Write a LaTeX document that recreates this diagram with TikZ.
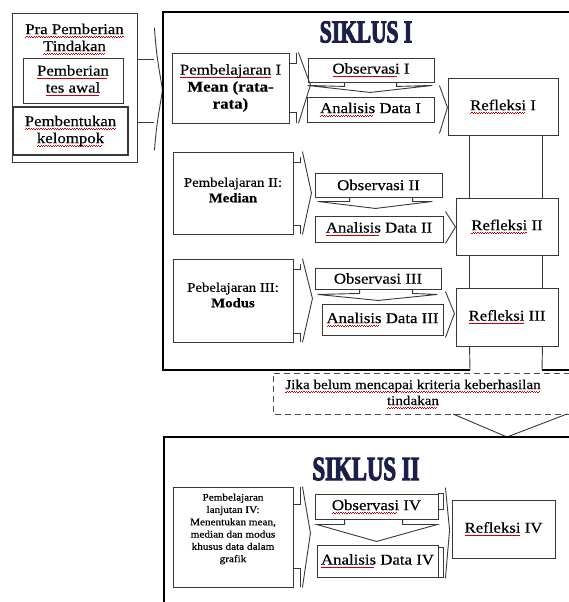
\documentclass[tikz,border=0pt]{standalone}
\usepackage{fontspec}
\setmainfont[FakeStretch=1.12,FakeBold=0.4]{Liberation Serif}
\newfontfamily\titlefont[FakeStretch=0.67,FakeBold=3]{Liberation Serif}
\usetikzlibrary{calc}

% red spell-check wave under a word group
\newsavebox\sqbox
\newcommand\sq[1]{\sbox\sqbox{#1}\rlap{\color{red!80!black}\leaders\hbox{\rule[-3.2pt]{1.2pt}{0.55pt}\rule[-2.5pt]{1.2pt}{0.55pt}}\hskip\wd\sqbox}\usebox\sqbox}

\definecolor{navy}{HTML}{1B1F4A}

\begin{document}
\begin{tikzpicture}[x=1pt,y=-1pt,
  ln/.style={draw=black!78, line width=0.9pt},
  box/.style={ln, fill=white, inner sep=0pt, align=center},
  frame/.style={draw=black, line width=2.8pt},
  txt/.style={font=\fontsize{15}{17}\selectfont, align=center},
  sm/.style={font=\fontsize{13.2}{15.5}\selectfont, align=center},
  xs/.style={font=\fontsize{10}{12.3}\selectfont, align=center},
  ttl/.style={font=\titlefont\bfseries\fontsize{32}{32}\selectfont, text=navy},
  dashbox/.style={draw=black!70, line width=1pt, dash pattern=on 6pt off 4pt},
]
\useasboundingbox (0,0) rectangle (569,602);
\begin{scope}
\clip (0,0) rectangle (569,602);

% ---------- preliminary stage ----------
\node[box, minimum width=125, minimum height=149] (pra) at (74.5,87.5) {};
\node[txt] (pratxt) at (74.5,39) {\sq{Pra Pemberian}\\\sq{Tindakan}};
\node[box, txt, minimum width=100, minimum height=45] (tes) at (73,80.5) {\sq{Pemberian}\\\sq{tes awal}};
\node[box, txt, line width=1.8pt, minimum width=115, minimum height=48] (kel) at (70.5,131) {\sq{Pembentukan}\\\sq{kelompok}};
\draw[ln] ($(pra.north east)+(0,47)$) -- ++(17,0);
\draw[ln] ($(pra.north east)+(0,110)$) -- ++(17,0);
\draw[ln] ($(pra.north east)+(17,15)$) .. controls ($(pra.north east)+(19,47)$) and ($(pra.east)+(23,-12)$) .. ($(pra.east)+(25,2.5)$)
          .. controls ($(pra.east)+(23,17)$) and ($(pra.south east)+(19,-40)$) .. ($(pra.south east)+(17,-12)$);

% ---------- cycle I frame ----------
\coordinate (s1a) at (470,370);
\coordinate (s1b) at (163,370);
\coordinate (s1c) at (163,12);
\coordinate (s1d) at (600,12);
\coordinate (s1e) at (542,370);
\coordinate (s1f) at (600,370);
\draw[frame] (s1a) -- (s1b) -- (s1c) -- (s1d);
\draw[frame] (s1e) -- (s1f);
\node[ttl] (t1) at (366,32) {SIKLUS I};

% ---------- row 1 ----------
\node[box, txt, minimum width=117, minimum height=70] (p1) at (230.5,88) {\sq{Pembelajaran} I\\\textbf{Mean (rata-}\\\textbf{rata)}};
\node[box, txt, minimum width=126, minimum height=24] (o1) at (371,70) {\sq{Observasi} I};
\node[box, txt, minimum width=127, minimum height=25] (a1) at (370.5,109.5) {\sq{Analisis} Data I};
\node[box, txt, minimum width=110, minimum height=57] (r1) at (503,106.5) {\sq{Refleksi} I};
\draw[ln] (p1.north east) -- ++(0,11) -- ++(7,0) -- ++(0,-11);
\draw[ln] (p1.south east) -- ++(0,-11) -- ++(7,0) -- ++(0,11);
\draw[ln] ($(p1.north east)+(9,0)$) -- ($(p1.east)+(21,-3)$) -- ($(p1.south east)+(9,0)$);
\draw[ln] ($(o1.south west)+(37,0)$) -- ++(0,4) -- ($(o1.south west)+(0,3)$) -- ($(o1.south)+(-1,10)$)
          -- ($(o1.south east)+(-2,3)$) -- ($(o1.south west)+(89,4)$) -- ($(o1.south west)+(89,0)$);
\draw[ln] ($(a1.north east)+(5,-11)$) -- ($(a1.east)+(13,-2)$) -- ($(a1.south east)+(5,11)$);

% ---------- row 2 ----------
\node[box, minimum width=120, minimum height=82] (p2) at (233,193) {};
\node[sm] (p2t) at (233,190) {Pembelajaran II:\\\textbf{Median}};
\node[box, txt, minimum width=127, minimum height=24] (o2) at (378.5,185) {Observasi II};
\node[box, txt, minimum width=128, minimum height=26] (a2) at (379,229) {\sq{Analisis} Data II};
\node[box, txt, minimum width=102, minimum height=57] (r2) at (507,226.5) {\sq{Refleksi} II};
\draw[ln] (p2.north east) -- ++(0,11) -- ++(7,0) -- ++(0,-6);
\draw[ln] (p2.south east) -- ++(0,-9) -- ++(7,0) -- ++(0,9);
\draw[ln] ($(p2.north east)+(9,0)$) -- ($(p2.east)+(18,0)$) -- ($(p2.south east)+(9,0)$);
\draw[ln] ($(o2.south west)+(35,0)$) -- ++(0,4) -- ($(o2.south west)+(3,4)$) -- ($(o2.south)+(-3,11)$)
          -- ($(o2.south east)+(-10,4)$) -- ($(o2.south west)+(98,4)$) -- ($(o2.south west)+(98,0)$);
\draw[ln] ($(a2.north east)+(2,-4)$) -- ($(a2.east)+(12,-2)$) -- ($(a2.south east)+(2,1)$);

% ---------- row 3 ----------
\node[box, minimum width=120, minimum height=83] (p3) at (233,300.5) {};
\node[sm] (p3t) at (233,295) {Pebelajaran III:\\\textbf{Modus}};
\node[box, txt, minimum width=126, minimum height=21] (o3) at (378,278.5) {Observasi III};
\node[box, txt, minimum width=121, minimum height=31] (a3) at (382.5,319.5) {\sq{Analisis} Data III};
\node[box, txt, minimum width=102, minimum height=58] (r3) at (507,317) {\sq{Refleksi} III};
\draw[ln] (p3.north east) -- ++(0,11) -- ++(7,0) -- ++(0,-6);
\draw[ln] (p3.south east) -- ++(0,-9) -- ++(7,0) -- ++(0,9);
\draw[ln] ($(p3.north east)+(9,0)$) -- ($(p3.east)+(19,-2)$) -- ($(p3.south east)+(9,0)$);
\draw[ln] ($(o3.south west)+(45,0)$) -- ++(0,4) -- ($(o3.south west)+(3,5)$) -- ($(o3.south)+(0,11)$)
          -- ($(o3.south east)+(-4,5)$) -- ($(o3.south west)+(98,4)$) -- ($(o3.south west)+(98,0)$);
\draw[ln] ($(a3.north east)+(2,-12)$) -- ($(a3.east)+(11,-6)$) -- ($(a3.south east)+(2,2)$);

% ---------- reflection column ----------
\draw[ln] ($(r1.south west)+(22,0)$) -- ($(r2.north west)+(14,0)$);
\draw[ln] ($(r1.south east)+(-16,0)$) -- ($(r2.north east)+(-16,0)$);
\draw[ln] ($(r2.south west)+(14,0)$) -- ($(r3.north west)+(14,0)$);
\draw[ln] ($(r2.south east)+(-16,0)$) -- ($(r3.north east)+(-16,0)$);
\draw[ln] ($(r3.south west)+(14,0)$) -- (s1a);
\draw[ln] ($(r3.south east)+(-16,0)$) -- (s1e);

% ---------- condition ----------
\coordinate (c1) at (600,373);
\coordinate (c2) at (273,373);
\coordinate (c3) at (273,414);
\coordinate (c4) at (600,414);
\draw[dashbox] (c1) -- (c2) -- (c3) -- (c4);
\node[font=\fontsize{13.5}{16}\selectfont, align=center] (cond) at (413,394)
  {\sq{Jika belum mencapai kriteria keberhasilan}\\\sq{tindakan}};
\coordinate (v1) at (453,414);
\coordinate (v2) at (507,437);
\coordinate (v3) at (567,414);
\draw[ln] (v1) -- (v2) -- (v3);

% ---------- cycle II frame ----------
\coordinate (s2a) at (600,437);
\coordinate (s2b) at (164,437);
\coordinate (s2c) at (164,640);
\draw[frame] (s2a) -- (s2b) -- (s2c);
\node[ttl, font=\titlefont\bfseries\fontsize{34}{34}\selectfont] (t2) at (366,469) {SIKLUS II};

% ---------- row 4 ----------
\node[box, minimum width=120, minimum height=100] (p4) at (233,537) {};
\node[xs] (p4t) at (233,529) {Pembelajaran\\lanjutan IV:\\Menentukan mean,\\median dan modus\\khusus data dalam\\grafik};
\node[box, txt, minimum width=123, minimum height=25] (o4) at (376.5,506.5) {\sq{Observasi} IV};
\node[box, txt, minimum width=121, minimum height=32] (a4) at (377.5,561) {\sq{Analisis} Data IV};
\node[box, txt, minimum width=103, minimum height=58] (r4) at (503.5,529) {\sq{Refleksi} IV};
\draw[ln] (p4.north east) -- ++(0,18) -- ++(7,0) -- ++(0,-18);
\draw[ln] (p4.south east) -- ++(0,-19) -- ++(7,0) -- ++(0,19);
\draw[ln] ($(p4.north east)+(9,0)$) -- ($(p4.east)+(17,-4)$) -- ($(p4.south east)+(9,0)$);
\draw[ln] ($(o4.south west)+(30,0)$) -- ++(0,5) -- ($(o4.south west)+(2,5)$) -- ($(o4.south)+(0,22)$)
          -- ($(o4.south east)+(-1,5)$) -- ($(o4.south west)+(88,5)$) -- ($(o4.south west)+(88,0)$);
\draw[ln] ($(o4.east)+(0,3)$) -- ++(5,0) |- (o4.north east);
\draw[ln] ($(a4.north east)+(0,3)$) -- ++(5,0) |- (a4.south east);
\draw[ln] ($(o4.north east)+(7,-6)$) -- ($(r4.west)+(-2,1)$) -- ($(a4.south east)+(7,1)$);
\end{scope}
\end{tikzpicture}
\end{document}
